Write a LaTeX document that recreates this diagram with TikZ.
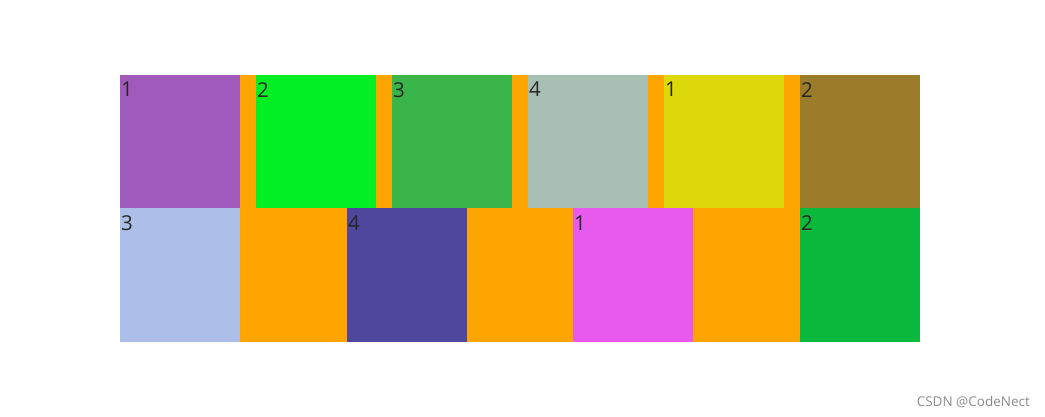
\documentclass[tikz,border=0pt]{standalone}
\usepackage{fontspec}
\setmainfont{Open Sans}
\begin{document}
\begin{tikzpicture}[x=1pt,y=-1pt,
  cell/.style={draw=none,inner sep=0pt,outer sep=0pt,anchor=north west},
  lbl/.style={inner sep=0pt,anchor=north west,font=\fontsize{20.5}{21}\selectfont,text=black!85}]
\definecolor{cOr}{HTML}{FFA500}
\definecolor{cA}{HTML}{A05ABC}
\definecolor{cB}{HTML}{00EE22}
\definecolor{cC}{HTML}{39B54A}
\definecolor{cD}{HTML}{A8BFB4}
\definecolor{cE}{HTML}{DCD80A}
\definecolor{cF}{HTML}{9A7C2B}
\definecolor{cG}{HTML}{ADBFE8}
\definecolor{cH}{HTML}{4F469D}
\definecolor{cI}{HTML}{E85AEE}
\definecolor{cJ}{HTML}{0AB83C}
\useasboundingbox[fill=white] (0,0) rectangle (1045,417);
\fill[cOr] (120,75) rectangle (920,342);
% row 1
\foreach \x/\c/\t [count=\i] in {120/cA/1,256/cB/2,392/cC/3,528/cD/4,664/cE/1,800/cF/2}{
  \fill[\c] (\x,75) rectangle ++(120,133.5);
  \node[lbl] (t\i) at (\x+1,82) {\t};
}
% row 2
\foreach \x/\c/\t [count=\i] in {120/cG/3,347/cH/4,573/cI/1,800/cJ/2}{
  \fill[\c] (\x,208.5) rectangle ++(120,133.5);
  \node[lbl] (b\i) at (\x+1,215.5) {\t};
}
\node[inner sep=0pt,anchor=east,font=\fontsize{13.5}{14}\selectfont,text=black!45] (wm) at (1030,402) {CSDN @CodeNect};
\end{tikzpicture}
\end{document}
